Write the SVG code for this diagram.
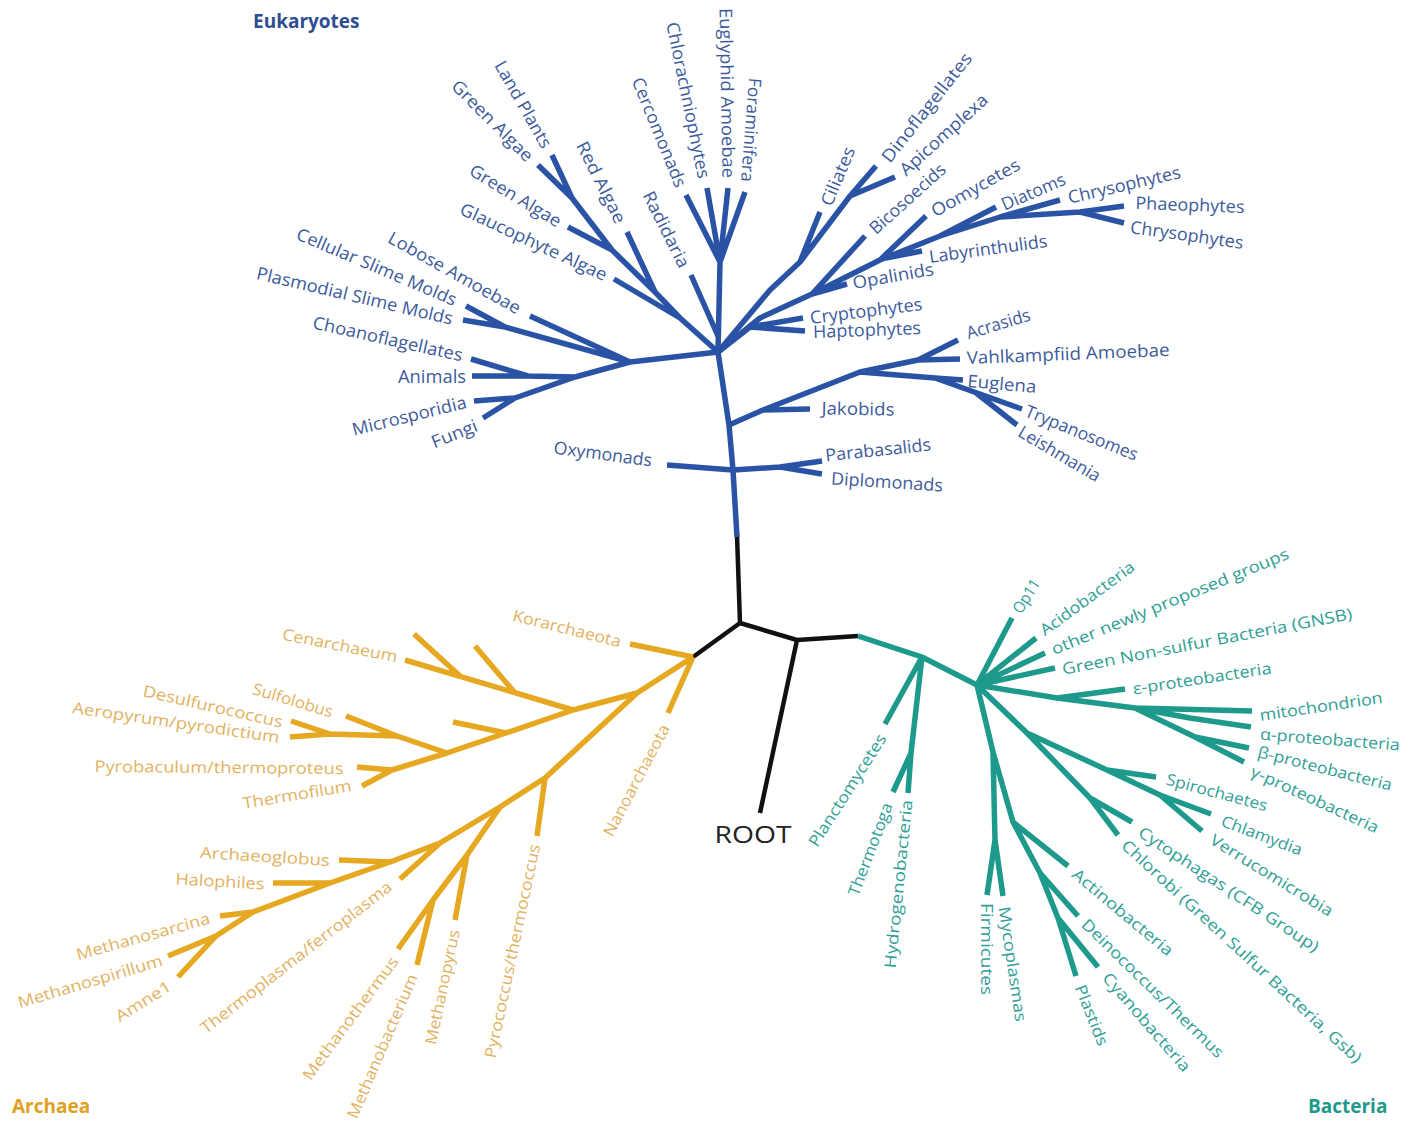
<svg xmlns="http://www.w3.org/2000/svg" width="1404" height="1122" viewBox="0 0 1404 1122">
<style>
  .e{stroke:#2a53a5;stroke-width:5.5;fill:none;stroke-linejoin:round;stroke-linecap:butt}
  .a{stroke:#e6a820;stroke-width:5.5;fill:none;stroke-linejoin:round;stroke-linecap:butt}
  .b{stroke:#1d9a8b;stroke-width:5.5;fill:none;stroke-linejoin:round;stroke-linecap:butt}
  .r{stroke:#111;stroke-width:4.5;fill:none;stroke-linejoin:round;stroke-linecap:butt}
  text{font-family:"Open Sans","Liberation Sans",sans-serif;dominant-baseline:central;text-anchor:middle}
  .te text{fill:#3d5b9c;font-size:17.5px}
  .ta text{fill:#e2b261;font-size:16px}
  .tb text{fill:#30a096;font-size:16px}
  .title{font-weight:bold;font-size:19px;text-anchor:start;dominant-baseline:auto}
</style>
<rect width="1404" height="1122" fill="#fff"/>

<!-- connectors -->
<g id="connectors">
  <!-- root stem -->
  <path class="r" d="M737,535 L740,623 M740,623 L693,657 M740,623 L797,640 L858,636 M797,640 L760,813"/>
  <!-- eukaryotes -->
  <path class="e" d="M737,537 L733,470 L729,425 L718,352"/>
  <path class="e" d="M733,470 L667,465 M733,470 L780,467 L822,461 M780,467 L822,474"/>
  <path class="e" d="M729,425 L763,410 L810,409 M763,410 L860,372 L918,360 L960,359 M918,360 L958,340 M860,372 L935,378 L963,380 M935,378 L1022,409 M975,392 L1017,425"/>
  <path class="e" d="M718,352 L750,327 L803,318 M750,327 L805,331"/>
  <path class="e" d="M718,352 L770,290 L800,262 L820,212 M800,262 L850,196 L876,166 M850,196 L895,177"/>
  <path class="e" d="M718,352 L760,318 L812,294 L880,260 L940,236 L1000,217 L1080,212 L1124,206 M1080,212 L1124,223 M1000,217 L1060,200 M940,236 L996,207 M880,260 L926,216 M886,258 L922,251 M812,294 L847,284 M812,294 L865,236"/>
  <path class="e" d="M718,352 L680,318 L655,292 L612,250 L572,198 L552,155 M572,198 L538,165 M612,250 L568,227 M655,292 L627,232 M680,318 L614,279"/>
  <path class="e" d="M718,336 L691,275"/>
  <path class="e" d="M718,352 L720,262 M720,262 L686,195 M720,262 L707,188 M720,262 L728,188 M720,262 L745,192"/>
  <path class="e" d="M718,352 L630,362 L505,327 L466,306 M505,327 L463,320 M630,362 L530,316"/>
  <path class="e" d="M630,362 L575,377 L528,376 L472,376 M528,376 L471,359 M575,377 L515,398 L474,401 M515,398 L483,418"/>
  <!-- archaea -->
  <path class="a" d="M693,657 L630,644 M693,657 L668,713 M693,657 L637,693"/>
  <path class="a" d="M637,693 L573,710 L506,733 L447,753 L392,770 L357,767 M392,770 L362,786"/>
  <path class="a" d="M573,710 L405,660 M460,676 L414,634 M515,693 L475,646"/>
  <path class="a" d="M447,753 L397,736 L346,716 M397,736 L330,734 L291,721 M330,734 L290,737 M506,733 L453,722"/>
  <path class="a" d="M637,693 L545,778 L500,807 L440,843 L390,862 L330,883 L253,912 L216,936 L168,956 M216,936 L178,977 M253,912 L220,916 M330,883 L273,883 M390,862 L339,860 M440,843 L400,879"/>
  <path class="a" d="M500,807 L467,855 L455,920 M467,855 L433,900 L398,949 M433,900 L417,965 M545,778 L537,836"/>
  <!-- bacteria -->
  <path class="b" d="M858,636 L922,657 L977,685"/>
  <path class="b" d="M922,657 L885,724 M922,657 L911,753 L893,792 M911,753 L908,793"/>
  <path class="b" d="M977,685 L1012,618 M977,685 L1036,638 M977,685 L1045,653 M977,685 L1055,668"/>
  <path class="b" d="M977,685 L1057,698 L1125,689 M1057,698 L1135,708 L1252,711 M1135,708 L1190,718 L1251,727 M1135,708 L1195,737 L1249,748 M1195,737 L1244,762"/>
  <path class="b" d="M977,685 L1027,733 L1107,770 L1156,777 M1107,770 L1160,795 L1211,814 M1160,795 L1202,831 M1027,733 L1090,798 L1132,822 M1090,798 L1118,835"/>
  <path class="b" d="M977,685 L993,752 L995,840 L987,895 M995,840 L1003,896 M993,752 L1013,822 L1068,866 M1013,822 L1040,873 L1078,916 M1040,873 L1058,918 L1098,967 M1058,918 L1076,976"/>
</g>

<!-- clade titles and root -->
<g id="title-eukaryotes"><text class="title" x="253" y="28" fill="#2d4f92">Eukaryotes</text></g>
<g id="title-archaea"><text class="title" x="12" y="1113" fill="#e0a020">Archaea</text></g>
<g id="title-bacteria"><text class="title" x="1308" y="1113" fill="#1d9a8b">Bacteria</text></g>
<g id="node-root"><text x="753" y="833" font-size="24" fill="#222" textLength="77" lengthAdjust="spacingAndGlyphs">ROOT</text></g>

<!-- eukaryote leaves -->
<g class="te">
  <g id="n-land-plants"><text transform="translate(524,104) rotate(60.3)" textLength="97" lengthAdjust="spacingAndGlyphs">Land Plants</text></g>
  <g id="n-green-algae-1"><text transform="translate(493,120) rotate(45)" textLength="107" lengthAdjust="spacingAndGlyphs">Green Algae</text></g>
  <g id="n-red-algae"><text transform="translate(602,182) rotate(63.4)" textLength="89" lengthAdjust="spacingAndGlyphs">Red Algae</text></g>
  <g id="n-green-algae-2"><text transform="translate(516,195) rotate(31.2)" textLength="104" lengthAdjust="spacingAndGlyphs">Green Algae</text></g>
  <g id="n-glaucophyte"><text transform="translate(534,241) rotate(25)" textLength="160" lengthAdjust="spacingAndGlyphs">Glaucophyte Algae</text></g>
  <g id="n-radidaria"><text transform="translate(667,229) rotate(63.4)" textLength="83" lengthAdjust="spacingAndGlyphs">Radidaria</text></g>
  <g id="n-cercomonads"><text transform="translate(660,132) rotate(67.8)" textLength="117" lengthAdjust="spacingAndGlyphs">Cercomonads</text></g>
  <g id="n-chlorarachniophytes"><text transform="translate(689,100) rotate(78.4)" textLength="159" lengthAdjust="spacingAndGlyphs">Chlorachniophytes</text></g>
  <g id="n-euglyphid"><text transform="translate(728,93) rotate(89)" textLength="170" lengthAdjust="spacingAndGlyphs">Euglyphid Amoebae</text></g>
  <g id="n-foraminifera"><text transform="translate(752,130) rotate(94.4)" textLength="104" lengthAdjust="spacingAndGlyphs">Foraminifera</text></g>
  <g id="n-lobose"><text transform="translate(455,272) rotate(29.3)" textLength="149" lengthAdjust="spacingAndGlyphs">Lobose Amoebae</text></g>
  <g id="n-cellular-slime"><text transform="translate(377,266) rotate(23)" textLength="172" lengthAdjust="spacingAndGlyphs">Cellular Slime Molds</text></g>
  <g id="n-plasmodial-slime"><text transform="translate(355,295) rotate(13.2)" textLength="201" lengthAdjust="spacingAndGlyphs">Plasmodial Slime Molds</text></g>
  <g id="n-choanoflagellates"><text transform="translate(388,338) rotate(12.5)" textLength="153" lengthAdjust="spacingAndGlyphs">Choanoflagellates</text></g>
  <g id="n-animals"><text transform="translate(432,376)" textLength="68" lengthAdjust="spacingAndGlyphs">Animals</text></g>
  <g id="n-microsporidia"><text transform="translate(409,415) rotate(-13.8)" textLength="117" lengthAdjust="spacingAndGlyphs">Microsporidia</text></g>
  <g id="n-fungi"><text transform="translate(454,433) rotate(-22)" textLength="48" lengthAdjust="spacingAndGlyphs">Fungi</text></g>
  <g id="n-oxymonads"><text transform="translate(603,453) rotate(7.6)" textLength="99" lengthAdjust="spacingAndGlyphs">Oxymonads</text></g>
  <g id="n-jakobids"><text transform="translate(858,408) rotate(0.8)" textLength="73" lengthAdjust="spacingAndGlyphs">Jakobids</text></g>
  <g id="n-parabasalids"><text transform="translate(878,449) rotate(-6)" textLength="106" lengthAdjust="spacingAndGlyphs">Parabasalids</text></g>
  <g id="n-diplomonads"><text transform="translate(887,481) rotate(3.6)" textLength="112" lengthAdjust="spacingAndGlyphs">Diplomonads</text></g>
  <g id="n-acrasids"><text transform="translate(998,323) rotate(-16.8)" textLength="66" lengthAdjust="spacingAndGlyphs">Acrasids</text></g>
  <g id="n-vahlkampfiid"><text transform="translate(1068,353) rotate(-2.3)" textLength="203" lengthAdjust="spacingAndGlyphs">Vahlkampfiid Amoebae</text></g>
  <g id="n-euglena"><text transform="translate(1002,383) rotate(5)" textLength="69" lengthAdjust="spacingAndGlyphs">Euglena</text></g>
  <g id="n-trypanosomes"><text transform="translate(1082,432) rotate(22)" textLength="120" lengthAdjust="spacingAndGlyphs">Trypanosomes</text></g>
  <g id="n-leishmania"><text transform="translate(1060,453) rotate(30.7)" textLength="92" lengthAdjust="spacingAndGlyphs">Leishmania</text></g>
  <g id="n-cryptophytes"><text transform="translate(866,310) rotate(-7.1)" textLength="113" lengthAdjust="spacingAndGlyphs">Cryptophytes</text></g>
  <g id="n-haptophytes"><text transform="translate(867,329) rotate(-2.1)" textLength="108" lengthAdjust="spacingAndGlyphs">Haptophytes</text></g>
  <g id="n-ciliates"><text transform="translate(837,176) rotate(-67.2)" textLength="62" lengthAdjust="spacingAndGlyphs">Ciliates</text></g>
  <g id="n-dinoflagellates"><text transform="translate(926,107) rotate(-51.7)" textLength="134" lengthAdjust="spacingAndGlyphs">Dinoflagellates</text></g>
  <g id="n-apicomplexa"><text transform="translate(943,134) rotate(-42.1)" textLength="112" lengthAdjust="spacingAndGlyphs">Apicomplexa</text></g>
  <g id="n-bicosoecids"><text transform="translate(907,198) rotate(-42)" textLength="96" lengthAdjust="spacingAndGlyphs">Bicosoecids</text></g>
  <g id="n-oomycetes"><text transform="translate(975,187) rotate(-29.7)" textLength="99" lengthAdjust="spacingAndGlyphs">Oomycetes</text></g>
  <g id="n-diatoms"><text transform="translate(1033,191) rotate(-23.2)" textLength="68" lengthAdjust="spacingAndGlyphs">Diatoms</text></g>
  <g id="n-chrysophytes-1"><text transform="translate(1124,184) rotate(-13.1)" textLength="115" lengthAdjust="spacingAndGlyphs">Chrysophytes</text></g>
  <g id="n-phaeophytes"><text transform="translate(1190,204) rotate(2.1)" textLength="109" lengthAdjust="spacingAndGlyphs">Phaeophytes</text></g>
  <g id="n-chrysophytes-2"><text transform="translate(1187,234) rotate(8.1)" textLength="114" lengthAdjust="spacingAndGlyphs">Chrysophytes</text></g>
  <g id="n-labyrinthulids"><text transform="translate(988,248) rotate(-7.7)" textLength="119" lengthAdjust="spacingAndGlyphs">Labyrinthulids</text></g>
  <g id="n-opalinids"><text transform="translate(893,275) rotate(-9.8)" textLength="82" lengthAdjust="spacingAndGlyphs">Opalinids</text></g>
</g>

<!-- archaea leaves -->
<g class="ta">
  <g id="n-korarchaeota"><text transform="translate(567,628) rotate(14)" textLength="111" lengthAdjust="spacingAndGlyphs">Korarchaeota</text></g>
  <g id="n-cenarchaeum"><text transform="translate(340,645) rotate(11.3)" textLength="117" lengthAdjust="spacingAndGlyphs">Cenarchaeum</text></g>
  <g id="n-sulfolobus"><text transform="translate(293,700) rotate(16.7)" textLength="83" lengthAdjust="spacingAndGlyphs">Sulfolobus</text></g>
  <g id="n-desulfurococcus"><text transform="translate(213,706) rotate(12.9)" textLength="143" lengthAdjust="spacingAndGlyphs">Desulfurococcus</text></g>
  <g id="n-aeropyrum"><text transform="translate(176,722) rotate(8.2)" textLength="209" lengthAdjust="spacingAndGlyphs">Aeropyrum/pyrodictium</text></g>
  <g id="n-pyrobaculum"><text transform="translate(219,767) rotate(0.5)" textLength="249" lengthAdjust="spacingAndGlyphs">Pyrobaculum/thermoproteus</text></g>
  <g id="n-thermofilum"><text transform="translate(297,794) rotate(-9.4)" textLength="110" lengthAdjust="spacingAndGlyphs">Thermofilum</text></g>
  <g id="n-nanoarchaeota"><text transform="translate(636,780) rotate(-62.2)" textLength="124" lengthAdjust="spacingAndGlyphs">Nanoarchaeota</text></g>
  <g id="n-archaeoglobus"><text transform="translate(265,856) rotate(3.5)" textLength="130" lengthAdjust="spacingAndGlyphs">Archaeoglobus</text></g>
  <g id="n-halophiles"><text transform="translate(220,881) rotate(3.2)" textLength="89" lengthAdjust="spacingAndGlyphs">Halophiles</text></g>
  <g id="n-methanosarcina"><text transform="translate(143,936) rotate(-15.5)" textLength="138" lengthAdjust="spacingAndGlyphs">Methanosarcina</text></g>
  <g id="n-methanospirillum"><text transform="translate(90,981) rotate(-16.6)" textLength="150" lengthAdjust="spacingAndGlyphs">Methanospirillum</text></g>
  <g id="n-amne1"><text transform="translate(143,1001) rotate(-31.9)" textLength="62" lengthAdjust="spacingAndGlyphs">Amne1</text></g>
  <g id="n-thermoplasma"><text transform="translate(296,957) rotate(-37.8)" textLength="237" lengthAdjust="spacingAndGlyphs">Thermoplasma/ferroplasma</text></g>
  <g id="n-methanothermus"><text transform="translate(350,1018) rotate(-53.4)" textLength="149" lengthAdjust="spacingAndGlyphs">Methanothermus</text></g>
  <g id="n-methanobacterium"><text transform="translate(382,1046) rotate(-66.9)" textLength="155" lengthAdjust="spacingAndGlyphs">Methanobacterium</text></g>
  <g id="n-methanopyrus"><text transform="translate(442,987) rotate(-78.2)" textLength="117" lengthAdjust="spacingAndGlyphs">Methanopyrus</text></g>
  <g id="n-pyrococcus"><text transform="translate(512,951) rotate(-78.1)" textLength="218" lengthAdjust="spacingAndGlyphs">Pyrococcus/thermococcus</text></g>
</g>

<!-- bacteria leaves -->
<g class="tb">
  <g id="n-planctomycetes"><text transform="translate(847,790) rotate(-57.5)" textLength="130" lengthAdjust="spacingAndGlyphs">Planctomycetes</text></g>
  <g id="n-thermotoga"><text transform="translate(870,849) rotate(-69.2)" textLength="98" lengthAdjust="spacingAndGlyphs">Thermotoga</text></g>
  <g id="n-hydrogenobacteria"><text transform="translate(898,884) rotate(-84.2)" textLength="169" lengthAdjust="spacingAndGlyphs">Hydrogenobacteria</text></g>
  <g id="n-firmicutes"><text transform="translate(987,949) rotate(90)" textLength="92" lengthAdjust="spacingAndGlyphs">Firmicutes</text></g>
  <g id="n-mycoplasmas"><text transform="translate(1013,964) rotate(81.6)" textLength="116" lengthAdjust="spacingAndGlyphs">Mycoplasmas</text></g>
  <g id="n-actinobacteria"><text transform="translate(1123,912) rotate(39.9)" textLength="126" lengthAdjust="spacingAndGlyphs">Actinobacteria</text></g>
  <g id="n-deinococcus"><text transform="translate(1153,988) rotate(44.2)" textLength="191" lengthAdjust="spacingAndGlyphs">Deinococcus/Thermus</text></g>
  <g id="n-cyanobacteria"><text transform="translate(1147,1022) rotate(49.2)" textLength="125" lengthAdjust="spacingAndGlyphs">Cyanobacteria</text></g>
  <g id="n-plastids"><text transform="translate(1092,1015) rotate(68.2)" textLength="64" lengthAdjust="spacingAndGlyphs">Plastids</text></g>
  <g id="n-chlorobi"><text transform="translate(1242,951) rotate(42.7)" textLength="320" lengthAdjust="spacingAndGlyphs">Chlorobi (Green Sulfur Bacteria, Gsb)</text></g>
  <g id="n-cytophagas"><text transform="translate(1229,889) rotate(33.5)" textLength="213" lengthAdjust="spacingAndGlyphs">Cytophagas (CFB Group)</text></g>
  <g id="n-verrucomicrobia"><text transform="translate(1272,875) rotate(31.7)" textLength="141" lengthAdjust="spacingAndGlyphs">Verrucomicrobia</text></g>
  <g id="n-chlamydia"><text transform="translate(1262,835) rotate(20.6)" textLength="85" lengthAdjust="spacingAndGlyphs">Chlamydia</text></g>
  <g id="n-spirochaetes"><text transform="translate(1217,792) rotate(15)" textLength="104" lengthAdjust="spacingAndGlyphs">Spirochaetes</text></g>
  <g id="n-gamma"><text transform="translate(1315,799) rotate(24.7)" textLength="139" lengthAdjust="spacingAndGlyphs">γ-proteobacteria</text></g>
  <g id="n-beta"><text transform="translate(1325,768) rotate(14.2)" textLength="138" lengthAdjust="spacingAndGlyphs">β-proteobacteria</text></g>
  <g id="n-alpha"><text transform="translate(1330,739) rotate(4.5)" textLength="140" lengthAdjust="spacingAndGlyphs">α-proteobacteria</text></g>
  <g id="n-mitochondrion"><text transform="translate(1321,706) rotate(-8.3)" textLength="124" lengthAdjust="spacingAndGlyphs">mitochondrion</text></g>
  <g id="n-epsilon"><text transform="translate(1202,678) rotate(-8.6)" textLength="140" lengthAdjust="spacingAndGlyphs">ε-proteobacteria</text></g>
  <g id="n-gnsb"><text transform="translate(1207,641) rotate(-10.9)" textLength="295" lengthAdjust="spacingAndGlyphs">Green Non-sulfur Bacteria (GNSB)</text></g>
  <g id="n-newly-proposed"><text transform="translate(1170,601) rotate(-22.3)" textLength="255" lengthAdjust="spacingAndGlyphs">other newly proposed groups</text></g>
  <g id="n-acidobacteria"><text transform="translate(1087,598) rotate(-36.4)" textLength="113" lengthAdjust="spacingAndGlyphs">Acidobacteria</text></g>
  <g id="n-op11"><text transform="translate(1026,596) rotate(-58)" textLength="37" lengthAdjust="spacingAndGlyphs">Op11</text></g>
</g>
</svg>
